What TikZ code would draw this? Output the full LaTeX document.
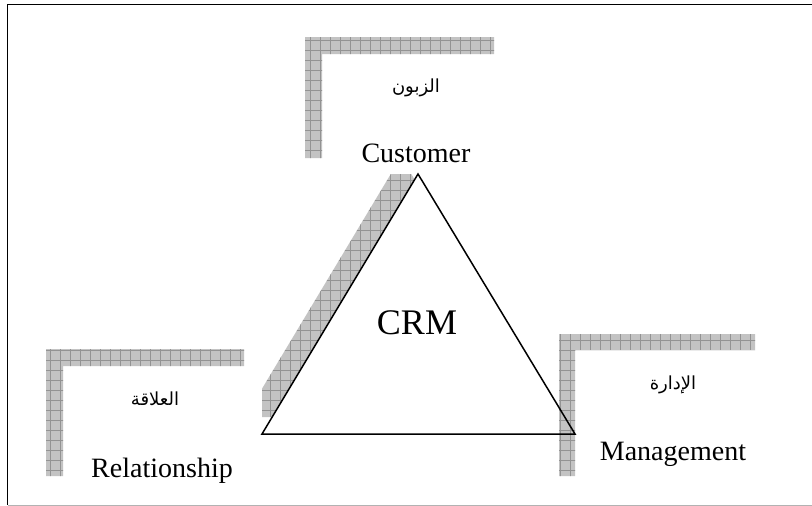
\documentclass[tikz,border=0pt]{standalone}
\usepackage{fontspec}
\setmainfont{Liberation Serif}
\newfontfamily\arabicfont[Script=Arabic]{DejaVu Sans}
\TeXXeTstate=1
\newcommand\hatchedregion[1]{%
  \fill[shadefill] #1;
  \begin{scope}
    \clip #1;
    \draw[gridline] (0,0) grid[step=10pt] (812,506);
  \end{scope}}
\begin{document}
\begin{tikzpicture}[x=1pt,y=-1pt,
  shadefill/.style={fill=gray!47},
  gridline/.style={draw=gray!85, line width=0.5pt},
  lab/.style={anchor=base, inner sep=0, font=\fontsize{28}{32}\selectfont},
  arlab/.style={inner sep=0, font=\arabicfont\fontsize{18}{22}\selectfont},
  tri/.style={draw=black, line width=1.5pt, line join=miter}]
\useasboundingbox (0,0) rectangle (812,506);
% outer frame
\draw[black, line width=1.6pt] (7.5,505) -- (7.5,4.5) -- (812,4.5);
\draw[gray!60, line width=1pt] (7.5,505) -- (812,505);
% triangle corners
\coordinate (L) at (262,434);
\coordinate (R) at (575,434);
\coordinate (T) at (418,174);
% triangle shadow
\begin{scope}
  \clip (262,174) rectangle (575,434);
  \hatchedregion{(245,417) -- (558,417) -- (401,157) -- cycle}
\end{scope}
\fill[white] (L) -- (R) -- (T) -- cycle;
% L-shaped shadows
\hatchedregion{(305,37) -- (494,37) -- (494,54) -- (322,54) -- (322,158) -- (305,158) -- cycle}
\hatchedregion{(46,349) -- (244,349) -- (244,366) -- (63,366) -- (63,476) -- (46,476) -- cycle}
\hatchedregion{(559,334) -- (755,334) -- (755,350) -- (575,350) -- (575,476) -- (559,476) -- cycle}
% triangle outline
\draw[tri] (L) -- (R) -- (T) -- cycle;
% labels
\node[lab] (cust) at (416,162) {Customer};
\node[lab] (rel) at (162,477) {Relationship};
\node[lab] (man) at (673,460) {Management};
\node[anchor=base, inner sep=0, font=\fontsize{36}{40}\selectfont] (crm) at (417,334) {CRM};
\node[arlab] (arcust) at (416,88) {\beginR الزبون\endR};
\node[arlab] (arrel) at (155,399) {\beginR العلاقة\endR};
\node[arlab] (arman) at (673,385) {\beginR الإدارة\endR};
\end{tikzpicture}
\end{document}
